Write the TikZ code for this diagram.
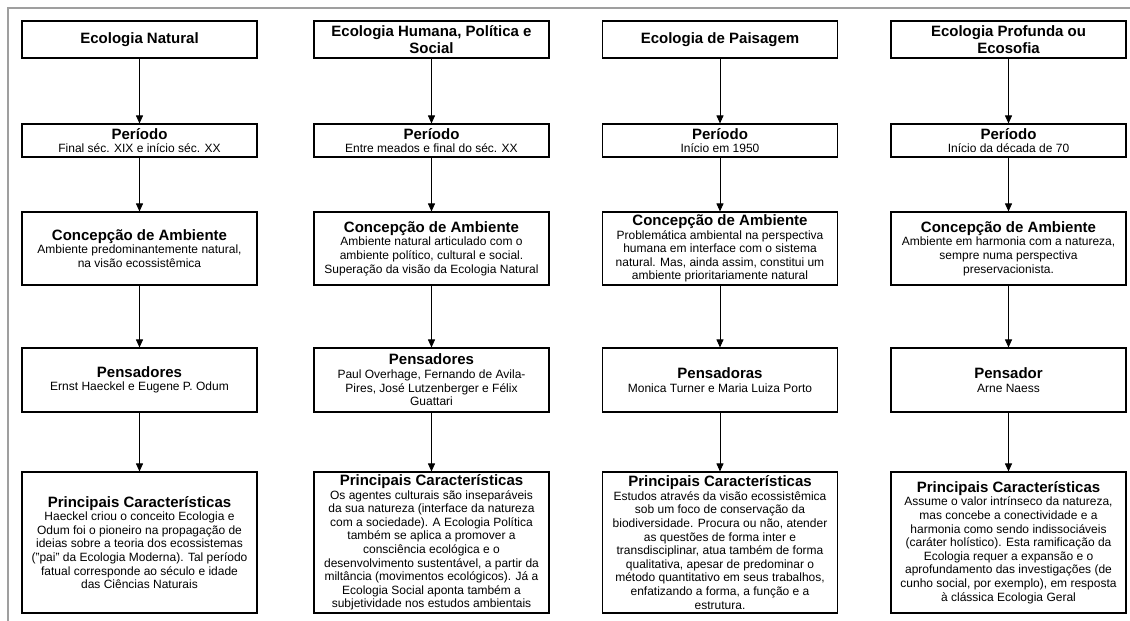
\documentclass[tikz,border=0pt]{standalone}
\usepackage{fontspec}
\setmainfont{Liberation Sans}
\usetikzlibrary{arrows.meta}
\newcommand\hdrfont{\fontsize{15}{16.5}\selectfont\bfseries}
\newcommand\bodyfont{\fontsize{12}{13.6}\selectfont}
\begin{document}
\begin{tikzpicture}[x=1pt,y=-1pt,
  box/.style={draw=black, line width=1.1pt, minimum width=235pt, minimum height=#1,
              align=center, inner sep=1pt, font=\bodyfont, fill=white},
  ttl/.style={box=#1, font=\hdrfont},
  arr/.style={draw=black, line width=0.9pt, -{Triangle[length=8pt,width=7pt]}}]
\useasboundingbox (0,0) rectangle (1130,621);
\fill[white] (0,0) rectangle (1130,621);
\draw[gray!75, line width=2.5pt] (8,621) -- (8,8) -- (1130,8);

% column 1
\node[ttl=37] (t1) at (139.5,39.5) {Ecologia Natural};
\node[box=33] (p1) at (139.5,140.5) {{\hdrfont Período}\\Final séc. XIX e início séc. XX};
\node[box=73] (c1) at (139.5,248.5) {{\hdrfont Concepção de Ambiente}\\Ambiente predominantemente natural,\\na visão ecossistêmica};
\node[box=64] (n1) at (139.5,380) {{\hdrfont Pensadores}\\Ernst Haeckel e Eugene P. Odum};
\node[box=141] (k1) at (139.5,542.5) {{\hdrfont Principais Características}\\Haeckel criou o conceito Ecologia e\\Odum  foi o pioneiro na propagação de\\ideias sobre a teoria dos ecossistemas\\("pai" da Ecologia Moderna). Tal período\\fatual corresponde ao século e idade\\das Ciências Naturais};

% column 2
\node[ttl=37] (t2) at (431.5,39.5) {Ecologia Humana, Política e\\Social};
\node[box=33] (p2) at (431.5,140.5) {{\hdrfont Período}\\Entre meados e final do séc. XX};
\node[box=73] (c2) at (431.5,248.5) {{\hdrfont Concepção de Ambiente}\\Ambiente natural articulado com o\\ambiente político, cultural e social.\\Superação da visão da Ecologia Natural};
\node[box=64] (n2) at (431.5,380) {{\hdrfont Pensadores}\\Paul Overhage,  Fernando de Avila-\\Pires, José Lutzenberger e Félix\\Guattari};
\node[box=141] (k2) at (431.5,542.5) {{\hdrfont Principais Características}\\Os agentes culturais são inseparáveis\\da sua natureza (interface da natureza\\com a sociedade). A Ecologia Política\\também  se aplica a promover a\\consciência ecológica e o\\desenvolvimento sustentável, a partir da\\miltância (movimentos ecológicos). Já a\\Ecologia  Social aponta também a\\subjetividade nos estudos ambientais};

% column 3
\node[ttl=37] (t3) at (720,39.5) {Ecologia de Paisagem};
\node[box=33] (p3) at (720,140.5) {{\hdrfont Período}\\Início em 1950};
\node[box=73] (c3) at (720,248.5) {{\hdrfont Concepção de Ambiente}\\Problemática ambiental na perspectiva\\humana em interface com o sistema\\natural. Mas, ainda assim, constitui um\\ambiente prioritariamente natural};
\node[box=64] (n3) at (720,380) {{\hdrfont Pensadoras}\\Monica Turner e Maria Luiza Porto};
\node[box=141] (k3) at (720,542.5) {{\hdrfont Principais Características}\\Estudos através da visão ecossistêmica\\sob um foco de conservação da\\biodiversidade. Procura ou não, atender\\as questões de forma inter e\\transdisciplinar, atua também de forma\\qualitativa, apesar de predominar o\\método quantitativo em seus trabalhos,\\enfatizando a forma, a função e a\\estrutura.};

% column 4
\node[ttl=37] (t4) at (1008.5,39.5) {Ecologia Profunda ou\\Ecosofia};
\node[box=33] (p4) at (1008.5,140.5) {{\hdrfont Período}\\Início da década de 70};
\node[box=73] (c4) at (1008.5,248.5) {{\hdrfont Concepção de Ambiente}\\Ambiente em harmonia com a natureza,\\sempre numa perspectiva\\preservacionista.};
\node[box=64] (n4) at (1008.5,380) {{\hdrfont Pensador}\\Arne Naess};
\node[box=141] (k4) at (1008.5,542.5) {{\hdrfont Principais Características}\\Assume o valor intrínseco da natureza,\\mas concebe a conectividade e a\\harmonia como sendo indissociáveis\\(caráter holístico). Esta ramificação da\\Ecologia requer a expansão e o\\aprofundamento das investigações (de\\cunho social, por exemplo), em resposta\\à clássica Ecologia Geral};

\foreach \i in {1,2,3,4}{
  \draw[arr] (t\i.south) -- (p\i.north);
  \draw[arr] (p\i.south) -- (c\i.north);
  \draw[arr] (c\i.south) -- (n\i.north);
  \draw[arr] (n\i.south) -- (k\i.north);
}
\end{tikzpicture}
\end{document}
